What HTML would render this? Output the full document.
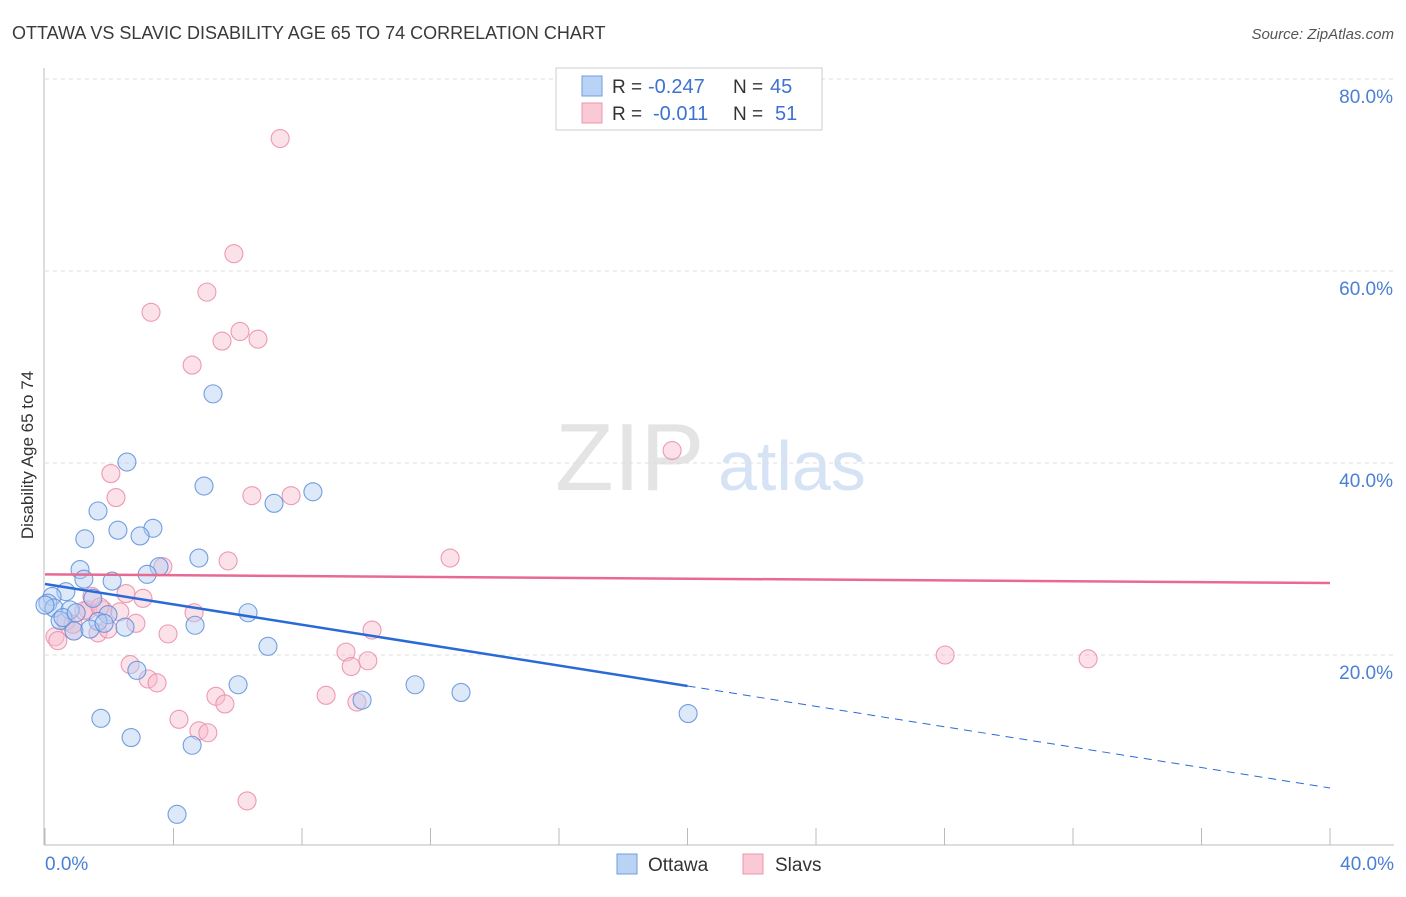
<!DOCTYPE html>
<html><head><meta charset="utf-8"><style>
body{margin:0;background:#fff;font-family:"Liberation Sans",sans-serif}
svg text{font-family:"Liberation Sans",sans-serif}
</style></head><body>
<svg id="chart" width="1406" height="892" xmlns="http://www.w3.org/2000/svg">
<text x="12" y="39" font-size="18" fill="#3a3a3a">OTTAWA VS SLAVIC DISABILITY AGE 65 TO 74 CORRELATION CHART</text>
<text x="1394" y="39" font-size="15" fill="#555" font-style="italic" text-anchor="end">Source: ZipAtlas.com</text>
<text x="555" y="490" font-size="96" fill="#e4e4e4" font-family="Liberation Serif">ZIP</text>
<text x="718" y="490" font-size="70" fill="#d6e3f5">atlas</text>
<g id="grid"></g><g id="axes"></g><g id="pts"></g><g id="lines"></g>
<text transform="translate(33,455) rotate(-90)" font-size="17" fill="#333" text-anchor="middle">Disability Age 65 to 74</text>
<text x="45" y="870" font-size="19" fill="#4a7fd4">0.0%</text>
<text x="1394" y="870" font-size="19" fill="#4a7fd4" text-anchor="end">40.0%</text>
<g>
<rect x="556" y="68" width="266" height="62" fill="#fff" stroke="#ccc"/>
<rect x="582" y="76" width="20" height="20" fill="#b9d3f5" stroke="#6f9ee0"/>
<rect x="582" y="103" width="20" height="20" fill="#f9c9d6" stroke="#ec94ae"/>
<text x="612" y="93" font-size="19" fill="#333">R =</text>
<text x="648" y="93" font-size="20" fill="#3d72d0">-0.247</text>
<text x="733" y="93" font-size="19" fill="#333">N =</text>
<text x="770" y="93" font-size="20" fill="#3d72d0">45</text>
<text x="612" y="120" font-size="19" fill="#333">R =</text>
<text x="653" y="120" font-size="20" fill="#3d72d0">-0.011</text>
<text x="733" y="120" font-size="19" fill="#333">N =</text>
<text x="775" y="120" font-size="20" fill="#3d72d0">51</text>
</g>
<g>
<rect x="617" y="854" width="20" height="20" fill="#b9d3f5" stroke="#6f9ee0"/>
<text x="648" y="871" font-size="19" fill="#333">Ottawa</text>
<rect x="743" y="854" width="20" height="20" fill="#f9c9d6" stroke="#ec94ae"/>
<text x="775" y="871" font-size="19" fill="#333">Slavs</text>
</g>
</svg>
<script>
const ottawaX=[2.55,4.95,8.34,7.13,1.65,2.27,3.36,2.96,1.24,4.79,3.55,3.18,1.09,1.21,2.09,0.65,0.22,1.49,0.09,0.28,0.78,1.96,5.23,6.32,4.67,2.49,0.47,0.90,1.65,1.40,1.84,6.94,2.86,6.01,11.52,12.95,9.87,1.74,20.02,2.68,4.58,4.11,0.56,0.97,0.0];
const ottawaY=[40.1,37.6,37.0,35.8,35.0,33.0,33.2,32.4,32.1,30.1,29.2,28.4,28.9,27.9,27.7,26.6,26.1,25.9,25.4,24.9,24.7,24.2,47.2,24.4,23.1,22.9,23.6,22.5,23.5,22.7,23.3,20.9,18.4,16.9,16.9,16.1,15.3,13.4,13.9,11.4,10.6,3.4,23.9,24.4,25.2];
const slavsX=[7.32,5.88,5.04,3.30,6.07,5.51,6.63,4.58,19.52,2.05,2.21,6.44,7.66,12.61,5.70,3.67,3.05,2.52,4.64,2.83,10.18,3.83,1.34,1.81,2.33,0.90,1.65,1.96,0.31,0.40,0.65,0.87,2.65,3.21,3.49,9.37,10.05,9.53,28.02,32.47,5.32,5.60,8.75,9.71,4.17,4.79,5.07,6.29,1.21,1.46,1.71];
const slavsY=[73.8,61.8,57.8,55.7,53.7,52.7,52.9,50.2,41.3,38.9,36.4,36.6,36.6,30.1,29.8,29.2,25.9,26.4,24.4,23.3,22.6,22.2,24.7,24.7,24.5,22.5,22.3,22.7,21.9,21.5,23.5,23.2,19.0,17.5,17.1,20.3,19.4,18.8,20.0,19.6,15.7,14.9,15.8,15.1,13.3,12.1,11.9,4.8,24.6,26.1,25.0];
const yTicks=[20,40,60,80];
const xTicks=[0,4,8,12,16,20,24,28,32,36,40];
const ottawaTrend=[27.4,6.15];
const slavsTrend=[28.4,27.5];
const NS="http://www.w3.org/2000/svg";
const X=v=>45+v*32.125, Y=v=>847-v*9.6;
function mk(t,a,p){const e=document.createElementNS(NS,t);for(const k in a)e.setAttribute(k,a[k]);p.appendChild(e);return e;}
const grid=document.getElementById('grid'),axes=document.getElementById('axes'),pts=document.getElementById('pts'),lines=document.getElementById('lines');
yTicks.forEach(v=>{
 const l=mk('line',{x1:45,x2:1394,y1:Y(v),y2:Y(v),stroke:'#ddd','stroke-dasharray':'4,4'},grid);
 
 
 const t=mk('text',{x:1393,y:Y(v)+24,'font-size':19,fill:'#4a7fd4','text-anchor':'end'},grid);
 t.textContent=v.toFixed(1)+'%';
 
 
});
const xa=mk('line',{x1:44,x2:1394,y1:845,y2:845,stroke:'#bbb'},axes);


const ya=mk('line',{x1:44,x2:44,y1:68,y2:845,stroke:'#bbb'},axes);


xTicks.forEach(v=>{
 const l=mk('line',{x1:X(v),x2:X(v),y1:828,y2:845,stroke:'#bbb'},axes);
 
 
});
function dots(xs,ys,fill,stroke,name){xs.forEach((x,i)=>{
 const c=mk('circle',{cx:X(x),cy:Y(ys[i]),r:9,fill:fill,'fill-opacity':0.45,stroke:stroke,'stroke-width':1.1,'stroke-opacity':0.85},pts);
 
 
});}
dots(slavsX,slavsY,'#f7bccd','#ec8aa8','slavs-point');
dots(ottawaX,ottawaY,'#b3cdf2','#5b8fdc','ottawa-point');
const oy=x=>ottawaTrend[0]+(ottawaTrend[1]-ottawaTrend[0])*x/40;
const l1=mk('line',{x1:X(0),y1:Y(oy(0)),x2:X(20),y2:Y(oy(20)),stroke:'#2a6ad6','stroke-width':2.5},lines);


const l2=mk('line',{x1:X(20),y1:Y(oy(20)),x2:X(40),y2:Y(oy(40)),stroke:'#2a6ad6','stroke-width':1,'stroke-dasharray':'8,6'},lines);


const l3=mk('line',{x1:X(0),y1:Y(slavsTrend[0]),x2:X(40),y2:Y(slavsTrend[1]),stroke:'#e86a92','stroke-width':2.5},lines);


</script>
</body></html>
